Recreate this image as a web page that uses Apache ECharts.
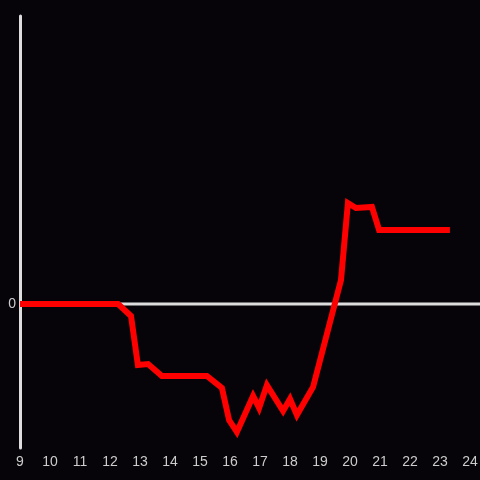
<!DOCTYPE html>
<html><head><meta charset="utf-8">
<script src="https://cdn.jsdelivr.net/npm/echarts@6/dist/echarts.min.js"></script>
<style>html,body{margin:0;padding:0;background:#060408;}#c{width:480px;height:480px;}</style>
</head><body><div id="c"></div>
<script>
const hours = [9.0, 12.27, 12.7, 12.93, 13.27, 13.73, 15.23, 15.73, 15.97, 16.23, 16.77, 16.97, 17.23, 17.77, 18.0, 18.23, 18.77, 19.7, 19.93, 20.2, 20.73, 20.97, 23.33];
const values = [0, 0, -0.83, -4.24, -4.17, -5.0, -5.0, -5.83, -8.06, -8.89, -6.39, -7.22, -5.63, -7.43, -6.6, -7.71, -5.76, 1.67, 7.01, 6.67, 6.74, 5.14, 5.14];
const xMin = 9, xMax = 24.333;
const yMin = -10, yMax = 20;
const baseline = [[xMin, 0], [xMax, 0]];

const chart = echarts.init(document.getElementById('c'), null, {renderer: 'canvas'});
chart.setOption({
  backgroundColor: '#060408',
  animation: false,
  grid: {left: 20, right: 0, top: 16, bottom: 32, containLabel: false, outerBoundsMode: 'none'},
  xAxis: {
    type: 'value', min: xMin, max: xMax, interval: 1,
    axisLine: {show: false}, axisTick: {show: false}, splitLine: {show: false},
    axisLabel: {color: '#cccccc', fontSize: 14, margin: 7,
      formatter: v => Number.isInteger(v) ? String(v) : ''}
  },
  yAxis: {
    type: 'value', min: yMin, max: yMax, interval: 10,
    axisLine: {show: true, lineStyle: {color: '#dddddd', width: 3}},
    axisTick: {show: false}, splitLine: {show: false},
    axisLabel: {color: '#cccccc', fontSize: 14, margin: 4,
      formatter: v => v === 0 ? '0' : ''}
  },
  series: [
    {type: 'line', data: baseline, symbol: 'none', z: 1,
     lineStyle: {color: '#dddddd', width: 3}},
    {type: 'line', data: hours.map((h, i) => [h, values[i]]), symbol: 'none', z: 2,
     lineStyle: {color: '#ff0000', width: 6, cap: 'butt', join: 'miter'}}
  ]
});
</script></body></html>
